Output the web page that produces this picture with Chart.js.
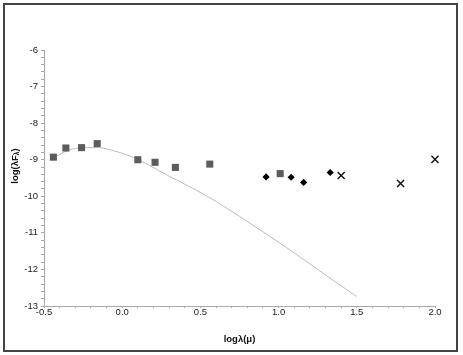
<!DOCTYPE html>
<html>
<head>
<meta charset="utf-8">
<script src="https://cdn.jsdelivr.net/npm/chart.js@4"></script>
<style>
  html, body { margin: 0; padding: 0; background: #fff; }
  #wrap { position: relative; width: 463px; height: 355px; }
  #frame { position: absolute; left: 3px; top: 3px; width: 455px; height: 349px;
           border: 2px solid #444; box-sizing: border-box; pointer-events: none; }
</style>
</head>
<body>
<div id="wrap">
  <canvas id="sed" width="463" height="355"></canvas>
  <div id="frame"></div>
</div>
<script>
// observed points, log(lambda) vs log(lambda F_lambda)
const squareX = [-0.44, -0.36, -0.26, -0.16, 0.10, 0.21, 0.34, 0.56, 1.01]
const squareY = [-8.93, -8.68, -8.67, -8.56, -9.00, -9.07, -9.21, -9.12, -9.38]

const diamondX = [0.92, 1.08, 1.16, 1.33]
const diamondY = [-9.47, -9.48, -9.62, -9.35]

const crossX = [1.40, 1.78, 2.00]
const crossY = [-9.43, -9.65, -8.99]

// model curve
const fitX = [-0.44, -0.35, -0.25, -0.15, -0.05, 0.05, 0.15, 0.30, 0.45, 0.60, 0.75, 0.90, 1.05, 1.20, 1.35, 1.50]
const fitY = [-8.95, -8.75, -8.67, -8.67, -8.76, -8.90, -9.10, -9.45, -9.78, -10.14, -10.55, -10.97, -11.40, -11.85, -12.30, -12.74]

const xLabels = ['-0.5', '0.0', '0.5', '1.0', '1.5', '2.0']
const yLabels = ['-13', '-12', '-11', '-10', '-9', '-8', '-7', '-6']

const FONT = '"Liberation Sans", Arial, sans-serif'

function toPoints(xs, ys) {
  return xs.map((x, i) => ({x: x, y: ys[i]}))
}

function nearLabel(v, labels) {
  for (let l of labels) {
    if (Math.abs(parseFloat(l) - v) < 1e-6) return l
  }
  return ''
}

// y title with subscript lambda
const yTitle = {
  id: 'yTitle',
  afterDraw(chart) {
    const ctx = chart.ctx
    const big = 'bold 9.5px ' + FONT
    const small = 'bold 6.5px ' + FONT
    ctx.save()
    ctx.translate(15, 166)
    ctx.rotate(-Math.PI / 2)
    ctx.fillStyle = '#111'
    ctx.textBaseline = 'middle'
    ctx.textAlign = 'left'
    ctx.font = big
    const w1 = ctx.measureText('log(λF').width
    const w3 = ctx.measureText(')').width
    ctx.font = small
    const w2 = ctx.measureText('λ').width
    let x = -(w1 + w2 + w3) / 2
    ctx.font = big
    ctx.fillText('log(λF', x, 0)
    x += w1
    ctx.font = small
    ctx.fillText('λ', x, 2)
    x += w2
    ctx.font = big
    ctx.fillText(')', x, 0)
    ctx.restore()
  }
}

new Chart(document.getElementById('sed'), {
  type: 'scatter',
  data: {
    datasets: [
      {
        data: toPoints(squareX, squareY),
        pointStyle: 'rect',
        pointRadius: 5,
        pointBackgroundColor: '#5c5c5c',
        pointBorderWidth: 0,
        clip: false
      },
      {
        data: toPoints(diamondX, diamondY),
        pointStyle: 'rectRot',
        pointRadius: 3.6,
        pointBackgroundColor: '#000',
        pointBorderWidth: 0,
        clip: false
      },
      {
        data: toPoints(crossX, crossY),
        pointStyle: 'crossRot',
        pointRadius: 5,
        pointBorderColor: '#111',
        pointBorderWidth: 1.4,
        clip: false
      },
      {
        data: toPoints(fitX, fitY),
        showLine: true,
        pointRadius: 0,
        borderColor: '#bbbbbb',
        borderWidth: 1,
        cubicInterpolationMode: 'monotone'
      }
    ]
  },
  options: {
    responsive: false,
    animation: false,
    events: [],
    layout: {padding: {left: 0, top: 50, right: 28, bottom: 0}},
    plugins: {legend: {display: false}, tooltip: {enabled: false}},
    scales: {
      x: {
        type: 'linear',
        min: -0.5,
        max: 2.0,
        afterFit: s => { s.height = 49 },
        border: {color: '#a8a8a8'},
        grid: {drawOnChartArea: false, tickLength: 2, tickColor: '#a8a8a8'},
        ticks: {
          stepSize: 0.1,
          autoSkip: false,
          maxRotation: 0,
          padding: 0,
          color: '#222',
          font: {family: FONT, size: 9.5, lineHeight: 1},
          callback: v => nearLabel(v, xLabels)
        },
        title: {
          display: true,
          text: 'logλ(μ)',
          color: '#111',
          font: {family: FONT, size: 9.5, weight: 'bold'},
          padding: {top: 0, bottom: 10}
        }
      },
      y: {
        type: 'linear',
        min: -13,
        max: -6,
        afterFit: s => { s.width = 44 },
        border: {color: '#a8a8a8'},
        grid: {drawOnChartArea: false, tickLength: 3, tickColor: '#a8a8a8'},
        ticks: {
          stepSize: 0.2,
          autoSkip: false,
          padding: 3,
          color: '#222',
          font: {family: FONT, size: 9.5},
          callback: v => nearLabel(v, yLabels)
        }
      }
    }
  },
  plugins: [yTitle]
})
</script>
</body>
</html>
